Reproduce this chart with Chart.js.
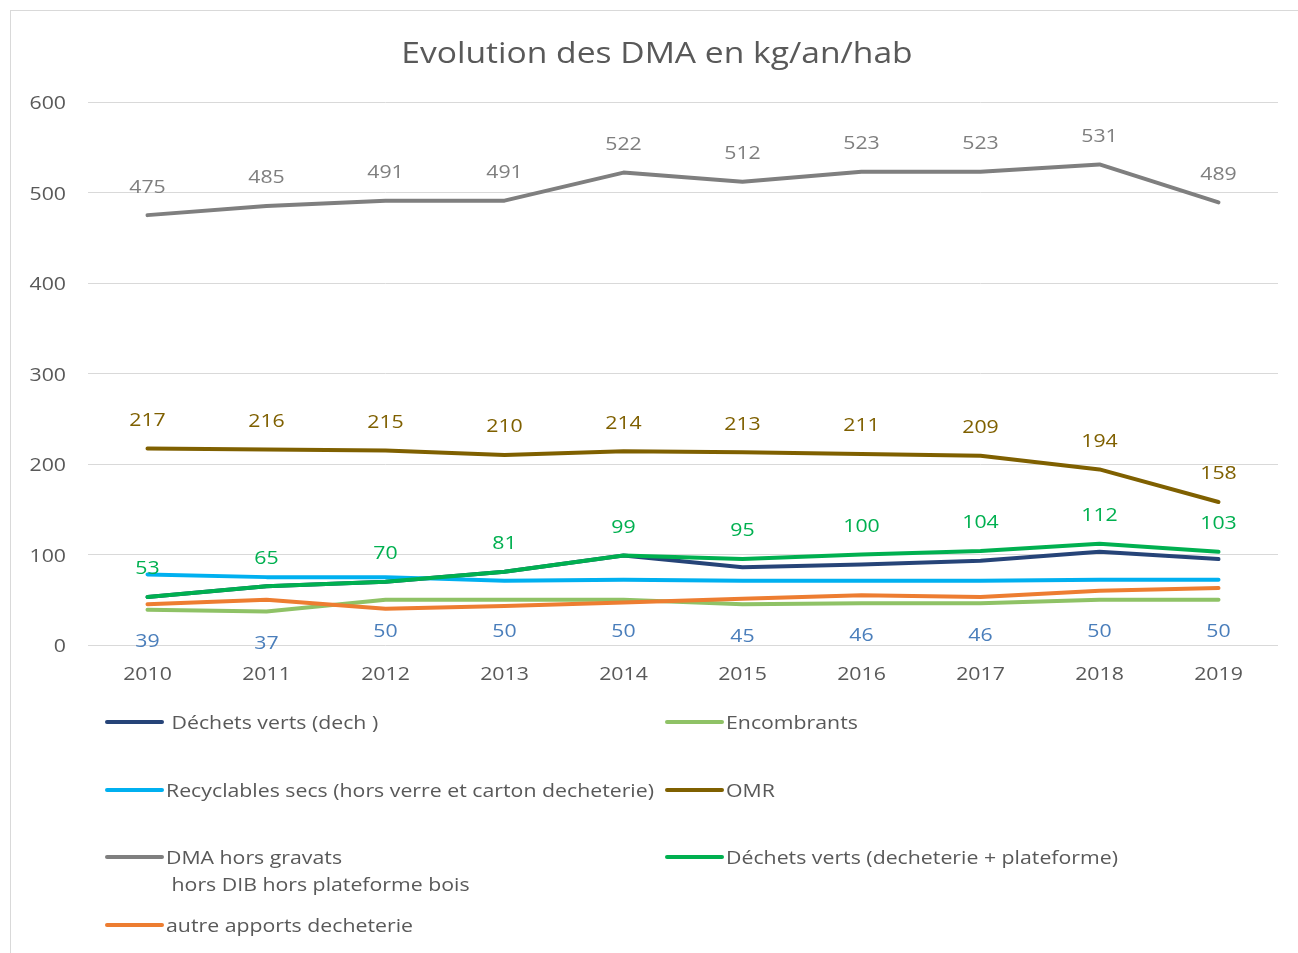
<!DOCTYPE html>
<html>
<head>
<meta charset="utf-8">
<script src="https://cdn.jsdelivr.net/npm/chart.js@4"></script>
<style>
  html, body { margin: 0; padding: 0; background: #fff; }
  #wrap { position: relative; width: 1298px; height: 953px; overflow: hidden; }
  #frame { position: absolute; left: 10px; top: 10px; width: 1300px; height: 960px; border: 1px solid #d9d9d9; box-sizing: border-box; }
  canvas { position: absolute; left: 0; top: 0; }
</style>
</head>
<body>
<div id="wrap">
  <div id="frame"></div>
  <canvas id="chart" width="1298" height="953"></canvas>
</div>
<script>
const years = ['2010', '2011', '2012', '2013', '2014', '2015', '2016', '2017', '2018', '2019'];

const dechetsVertsDech = [53, 65, 70, 81, 99, 86, 89, 93, 103, 95];
const encombrants = [39, 37, 50, 50, 50, 45, 46, 46, 50, 50];
const recyclables = [78, 75, 75, 71, 72, 71, 71, 71, 72, 72];
const omr = [217, 216, 215, 210, 214, 213, 211, 209, 194, 158];
const dma = [475, 485, 491, 491, 522, 512, 523, 523, 531, 489];
const dechetsVertsTotal = [53, 65, 70, 81, 99, 95, 100, 104, 112, 103];
const autresApports = [45, 50, 40, 43, 47, 51, 55, 53, 60, 63];

const yTicks = [0, 100, 200, 300, 400, 500, 600];

const FONT = '"Open Sans", "Liberation Sans", sans-serif';
const STRETCH = 1.12; // the original text is a bit wide
const NUDGE = 2;      // middle baseline sits a touch high in Open Sans

const series = [
  { label: ' Déchets verts (dech )', data: dechetsVertsDech, color: '#264478' },
  { label: 'Encombrants', data: encombrants, color: '#8fc266', labels: 'below', labelColor: '#4a7ebb' },
  { label: 'Recyclables secs (hors verre et carton decheterie)', data: recyclables, color: '#00b0f0' },
  { label: 'OMR', data: omr, color: '#7f6000', labels: 'above', labelColor: '#7f6000' },
  { label: 'DMA hors gravats\n hors DIB hors plateforme bois', data: dma, color: '#7f7f7f', labels: 'above', labelColor: '#7f7f7f' },
  { label: 'Déchets verts (decheterie + plateforme)', data: dechetsVertsTotal, color: '#00b050', labels: 'above', labelColor: '#00b050' },
  { label: 'autre apports decheterie', data: autresApports, color: '#ed7d31' }
];

function wideText(ctx, text, x, y) {
  ctx.save();
  ctx.translate(x, y + NUDGE);
  ctx.scale(STRETCH, 1);
  ctx.fillText(text, 0, 0);
  ctx.restore();
}

// data labels drawn next to the points
const valueLabels = {
  id: 'valueLabels',
  afterDatasetsDraw(chart) {
    const ctx = chart.ctx;
    ctx.save();
    ctx.font = '19px ' + FONT;
    ctx.textAlign = 'center';
    ctx.textBaseline = 'middle';
    chart.data.datasets.forEach((ds, i) => {
      const s = series[i];
      if (!s.labels) return;
      const meta = chart.getDatasetMeta(i);
      ctx.fillStyle = s.labelColor;
      meta.data.forEach((pt, j) => {
        const dy = s.labels === 'above' ? -30 : 30;
        wideText(ctx, String(ds.data[j]), pt.x, pt.y + dy);
      });
    });
    ctx.restore();
  }
};

// title, tick labels and two-column legend
const decor = {
  id: 'decor',
  afterDraw(chart) {
    const ctx = chart.ctx;
    const area = chart.chartArea;
    const xs = chart.scales.x;
    const ys = chart.scales.y;
    ctx.save();
    ctx.fillStyle = '#595959';
    ctx.font = '30px ' + FONT;
    ctx.textAlign = 'center';
    ctx.textBaseline = 'middle';
    wideText(ctx, 'Evolution des DMA en kg/an/hab', 657, 52);

    ctx.font = '19px ' + FONT;
    years.forEach((y, i) => wideText(ctx, y, xs.getPixelForTick(i), area.bottom + 28));
    ctx.textAlign = 'right';
    yTicks.forEach(v => wideText(ctx, String(v), area.left - 22, ys.getPixelForValue(v)));

    const cols = [area.left + 19, area.left + 579];
    const rows = [area.bottom + 77, area.bottom + 145, area.bottom + 212, area.bottom + 280];
    ctx.textAlign = 'left';
    series.forEach((s, i) => {
      const x = cols[i % 2];
      const y = rows[Math.floor(i / 2)];
      ctx.strokeStyle = s.color;
      ctx.lineWidth = 4;
      ctx.lineCap = 'round';
      ctx.beginPath();
      ctx.moveTo(x, y);
      ctx.lineTo(x + 55, y);
      ctx.stroke();
      ctx.fillStyle = '#595959';
      s.label.split('\n').forEach((line, k) => {
        wideText(ctx, line, x + 59, y + k * 27);
      });
    });
    ctx.restore();
  }
};

new Chart(document.getElementById('chart'), {
  type: 'line',
  data: {
    labels: years,
    datasets: series.map((s, i) => ({
      label: s.label,
      data: s.data,
      borderColor: s.color,
      backgroundColor: s.color,
      borderWidth: 4,
      pointRadius: 0,
      tension: 0,
      borderCapStyle: 'round',
      borderJoinStyle: 'round',
      order: series.length - i
    }))
  },
  options: {
    responsive: false,
    animation: false,
    layout: { padding: { top: 102, left: 0, right: 20, bottom: 263 } },
    plugins: {
      legend: { display: false },
      title: { display: false },
      tooltip: { enabled: false }
    },
    scales: {
      x: {
        offset: true,
        grid: { display: false },
        border: { display: false },
        ticks: { display: false },
        afterFit(scale) { scale.height = 45; }
      },
      y: {
        min: 0,
        max: 600,
        afterBuildTicks(scale) { scale.ticks = yTicks.map(v => ({ value: v })); },
        grid: { color: '#d9d9d9', lineWidth: 1, drawTicks: false },
        border: { display: false },
        ticks: { display: false },
        afterFit(scale) { scale.width = 88; }
      }
    }
  },
  plugins: [valueLabels, decor]
});
</script>
</body>
</html>
